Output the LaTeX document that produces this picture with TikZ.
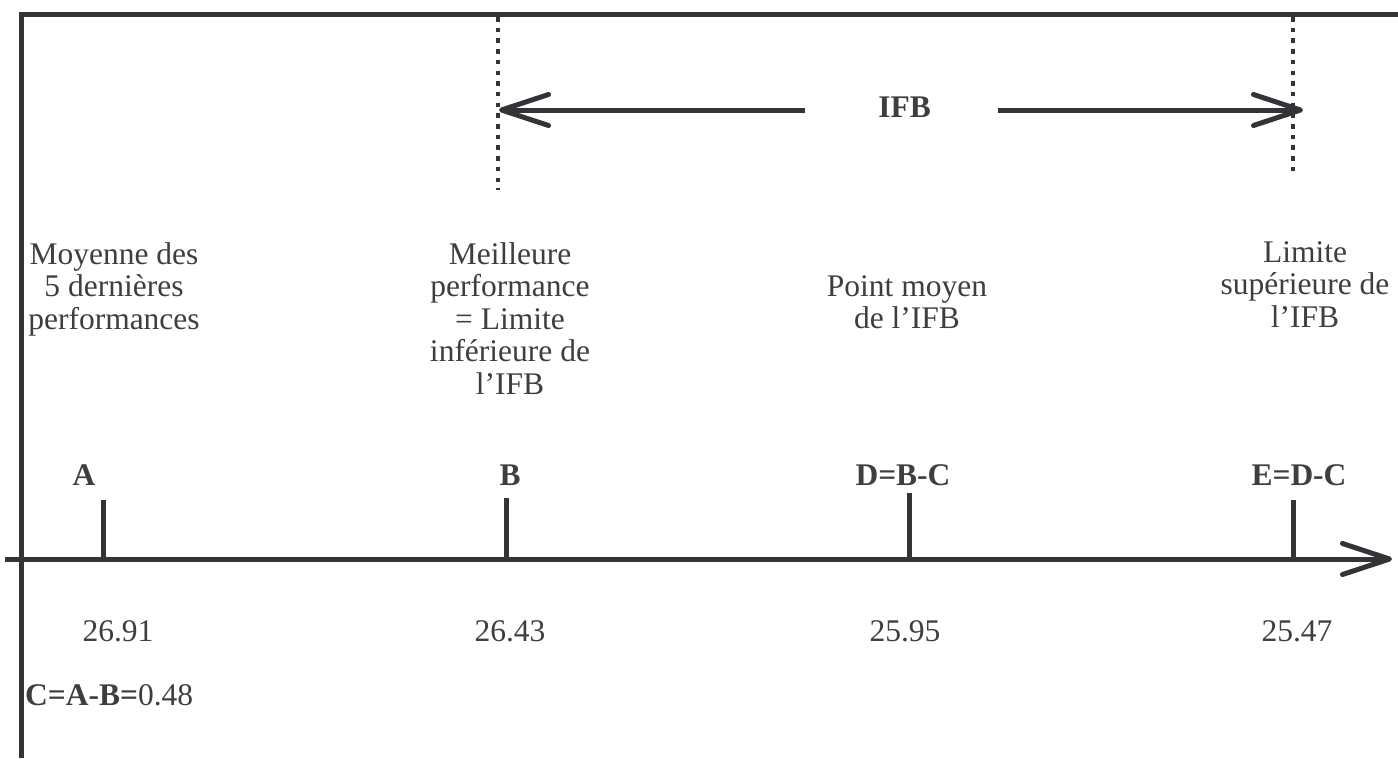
\documentclass[tikz,border=0pt]{standalone}
\usepackage{fontspec}
\setmainfont{Liberation Serif}
\usetikzlibrary{arrows.meta}
\definecolor{ink}{RGB}{52,52,56}
\definecolor{txt}{RGB}{62,62,64}

\begin{document}
\begin{tikzpicture}[x=1pt,y=-1pt,
  frameline/.style={draw=ink,line width=5pt},
  tickmark/.style={draw=ink,line width=5pt},
  guide/.style={draw=ink,line width=4.5pt,dash pattern=on 4.5pt off 6.2pt},
  barb/.style={-{Straight Barb[length=47pt,width=31pt,round]}},
  desc/.style={text=txt,font=\fontsize{31.5}{32.5}\selectfont,align=center,inner sep=0pt,anchor=north},
  lab/.style={text=txt,font=\fontsize{31.5}{32.5}\selectfont\bfseries,inner sep=0pt,anchor=base},
  val/.style={text=txt,font=\fontsize{31.5}{32.5}\selectfont,inner sep=0pt,anchor=base},
]
\useasboundingbox (0,0) rectangle (1398,758);

% frame: left rule and top rule
\coordinate (fBL) at (21.5,758);
\coordinate (fTL) at (21.5,14);
\coordinate (fTR) at (1398,14);
\draw[frameline,line join=miter] (fBL) -- (fTL) -- (fTR);

% dotted limits of the IFB
\coordinate (gBtop) at (498,17);
\coordinate (gBbot) at (498,190);
\coordinate (gEtop) at (1293,17);
\coordinate (gEbot) at (1293,176);
\draw[guide] (gBtop) -- (gBbot);
\draw[guide] (gEtop) -- (gEbot);

% IFB interval arrows
\node[lab] (ifb) at (904.5,117) {IFB};
\coordinate (ifbL) at (805,110);
\coordinate (ifbR) at (998,110);
\coordinate (limB) at (499,110);
\coordinate (limE) at (1303,110);
\draw[frameline,barb] (ifbL) -- (limB);
\draw[frameline,barb] (ifbR) -- (limE);

% descriptions
\node[desc] (dA) at (114,242) {Moyenne des\\5 dernières\\performances};
\node[desc] (dB) at (510,242) {Meilleure\\performance\\= Limite\\inférieure de\\l’IFB};
\node[desc] (dD) at (907,275) {Point moyen\\de l’IFB};
\node[desc] (dE) at (1305,241) {Limite\\supérieure de\\l’IFB};

% point labels
\node[lab] (lA) at (84,485) {A};
\node[lab] (lB) at (510,485) {B};
\node[lab] (lD) at (903,485) {D=B-C};
\node[lab] (lE) at (1299,485) {E=D-C};

% axis
\coordinate (axL) at (5,559);
\coordinate (axR) at (1392,559);
\draw[frameline,barb] (axL) -- (axR);

% ticks
\coordinate (tA) at (103,559);  \coordinate (tAtop) at (103,500);
\coordinate (tB) at (506,559);  \coordinate (tBtop) at (506,498);
\coordinate (tD) at (909,559);  \coordinate (tDtop) at (909,493);
\coordinate (tE) at (1293,559); \coordinate (tEtop) at (1293,500);
\draw[tickmark] (tA) -- (tAtop);
\draw[tickmark] (tB) -- (tBtop);
\draw[tickmark] (tD) -- (tDtop);
\draw[tickmark] (tE) -- (tEtop);

% values
\node[val] (vA) at (118,641) {26.91};
\node[val] (vB) at (510,641) {26.43};
\node[val] (vD) at (905,641) {25.95};
\node[val] (vE) at (1297,641) {25.47};

\node[val,anchor=base west] (cdiff) at (25,705) {\textbf{C=A-B=}0.48};
\end{tikzpicture}
\end{document}
